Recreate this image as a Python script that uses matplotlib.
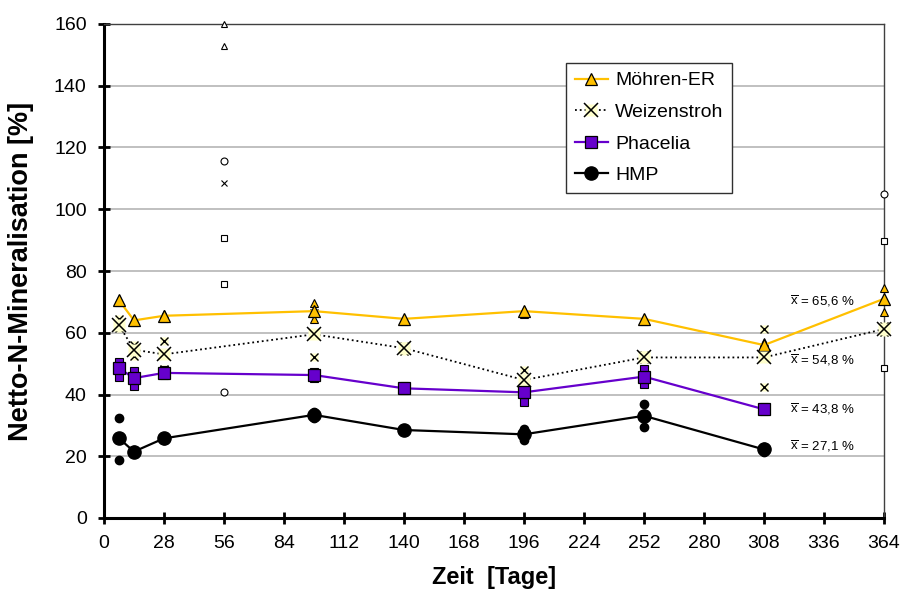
import numpy as np
import matplotlib.pyplot as plt
from matplotlib.lines import Line2D

plt.rcParams['font.family'] = ['Liberation Sans', 'DejaVu Sans']
plt.rcParams['mathtext.fontset'] = 'custom'
plt.rcParams['mathtext.rm'] = 'Liberation Sans'

# Mittelwerte
tage = [7, 14, 28, 98, 140, 196, 252, 308, 364]
moehren = [70.5, 64, 65.5, 67, 64.5, 67, 64.5, 56, 71]
weizen = [62.5, 54.5, 53, 59.5, 55, 44.7, 52, 52, 61.2]
tage_kurz = [7, 14, 28, 98, 140, 196, 252, 308]
phacelia = [48.5, 45.3, 47, 46.3, 42, 40.7, 45.8, 35.2]
hmp = [25.8, 21.5, 25.8, 33.4, 28.5, 27.1, 33.1, 22.2]

# Einzelwerte (Wiederholungen, hoch / tief)
moehren_hi = [71, 64.5, 66, 69.5, 64.6, 67.5, 64.8, 57, 74.6]
moehren_lo = [70, 63.6, 64.8, 64.5, 63.9, 66.2, 63.9, 55, 66.8]
weizen_hi = [64.5, 56, 57.4, 66.5, 55.8, 48, 52.9, 61.2, 62.2]
weizen_lo = [61.5, 52.6, 48.2, 52, 54.2, 41, 51.6, 42.5, 60.3]
phacelia_hi = [50.6, 47.7, 47.8, 47.2, 42.7, 43.9, 48.2, 35.9]
phacelia_lo = [45.8, 42.8, 46.4, 45.5, 41.3, 37.7, 43.3, 34.5]
hmp_hi = [32.5, 22, 26.2, 34.3, 28.8, 28.9, 36.8, 23]
hmp_lo = [18.8, 21, 25.4, 32.5, 28.2, 25.2, 29.6, 21.4]

# Ausreisser (hohl dargestellt)
ausr_tag = [56, 56, 56, 56, 56, 56, 56, 364, 364, 364]
ausr_wert = [160, 152.9, 115.7, 108.4, 90.8, 75.8, 40.9, 104.8, 89.7, 48.5]
ausr_marker = ['^', '^', 'o', 'x', 's', 's', 'o', 'o', 's', 's']

mittel_text = ['65,6', '54,8', '43,8', '27,1']
mittel_y = [70.3, 51.2, 35.3, 23.3]

orange = '#FFC000'
gelb = '#FFFFCC'
lila = '#6600CC'

fig = plt.figure(figsize=(9, 5.92), dpi=100)
ax = fig.add_axes([104/900, 1-518/592, 780/900, 494/592])

ax.set_xlim(0, 364)
ax.set_ylim(0, 160)
ax.set_xticks(np.arange(0, 365, 28))
ax.set_yticks(np.arange(0, 161, 20))
ax.yaxis.grid(True, color='#C0C0C0', lw=1.4)
ax.set_axisbelow(True)

for s in ['left', 'bottom']:
    ax.spines[s].set_linewidth(2.2)
    ax.spines[s].set_color('black')
for s in ['top', 'right']:
    ax.spines[s].set_linewidth(1.0)
    ax.spines[s].set_color('#404040')
ax.tick_params(direction='inout', length=9, width=2, labelsize=14)
ax.tick_params(axis='x', pad=8)
ax.tick_params(axis='y', pad=8)

# Ausreisser
for t, w, m in zip(ausr_tag, ausr_wert, ausr_marker):
    if m == 'x':
        ax.plot(t, w, 'x', ms=5, mec='black', mew=0.8, clip_on=False, zorder=3)
    else:
        ax.plot(t, w, m, ms=5, mfc='white', mec='black', mew=0.8, clip_on=False, zorder=3)

# Einzelwerte
for v in (moehren_hi, moehren_lo):
    ax.plot(tage, v, '^', ls='none', ms=6, mfc=orange, mec='black', mew=0.8,
            clip_on=False, zorder=4)
for v in (weizen_hi, weizen_lo):
    ax.plot(tage, v, 's', ls='none', ms=6, mfc=gelb, mec='none', clip_on=False, zorder=4)
    ax.plot(tage, v, 'x', ls='none', ms=5.5, mec='black', mew=1.0, clip_on=False, zorder=4)
for v in (phacelia_hi, phacelia_lo):
    ax.plot(tage_kurz, v, 's', ls='none', ms=6, mfc=lila, mec='black', mew=0.8, zorder=4)
for v in (hmp_hi, hmp_lo):
    ax.plot(tage_kurz, v, 'o', ls='none', ms=6, mfc='black', mec='black', zorder=4)

# Mittelwerte mit Linien
ax.plot(tage, moehren, '-^', color=orange, lw=1.6, ms=9, mfc=orange,
        mec='black', mew=0.9, clip_on=False, zorder=5)
ax.plot(tage, weizen, ':', color='black', lw=1.3, clip_on=False, zorder=5)
ax.plot(tage, weizen, 's', ls='none', ms=9, mfc=gelb, mec='none', clip_on=False, zorder=5)
ax.plot(tage, weizen, 'x', ls='none', ms=10, mec='black', mew=1.1, clip_on=False, zorder=5)
ax.plot(tage_kurz, phacelia, '-s', color=lila, lw=1.6, ms=8.5, mfc=lila,
        mec='black', mew=0.9, zorder=5)
ax.plot(tage_kurz, hmp, '-o', color='black', lw=1.6, ms=9.5, zorder=5)

for txt, y in zip(mittel_text, mittel_y):
    ax.text(320, y, r'$\overline{\mathrm{x}}$ = ' + txt + ' %', fontsize=9.5,
            va='center', ha='left')

h1 = Line2D([], [], color=orange, lw=1.6, marker='^', ms=9, mfc=orange, mec='black', mew=0.9)
h2a = Line2D([], [], color='black', lw=1.3, ls=':')
h2b = Line2D([], [], ls='none', marker='s', ms=9, mfc=gelb, mec='none')
h2c = Line2D([], [], ls='none', marker='x', ms=10, mec='black', mew=1.1)
h3 = Line2D([], [], color=lila, lw=1.6, marker='s', ms=8.5, mfc=lila, mec='black', mew=0.9)
h4 = Line2D([], [], color='black', lw=1.6, marker='o', ms=9.5)
leg = ax.legend([h1, (h2a, h2b, h2c), h3, h4],
                ['Möhren-ER', 'Weizenstroh', 'Phacelia', 'HMP'],
                loc='upper left', bbox_to_anchor=(0.592, 0.921), fontsize=14,
                frameon=True, fancybox=False, framealpha=1, edgecolor='#303030',
                handlelength=1.7, handletextpad=0.4, labelspacing=0.72,
                borderpad=0.45, borderaxespad=0)
leg.get_frame().set_linewidth(1.0)

ax.set_xlabel('Zeit  [Tage]', fontsize=17, fontweight='bold')
ax.set_ylabel('Netto-N-Mineralisation [%]', fontsize=19.5, fontweight='bold')
ax.xaxis.set_label_coords(0.5, -0.097)
ax.yaxis.set_label_coords(-0.09, 0.5)

fig.savefig('out.png', dpi=100)
